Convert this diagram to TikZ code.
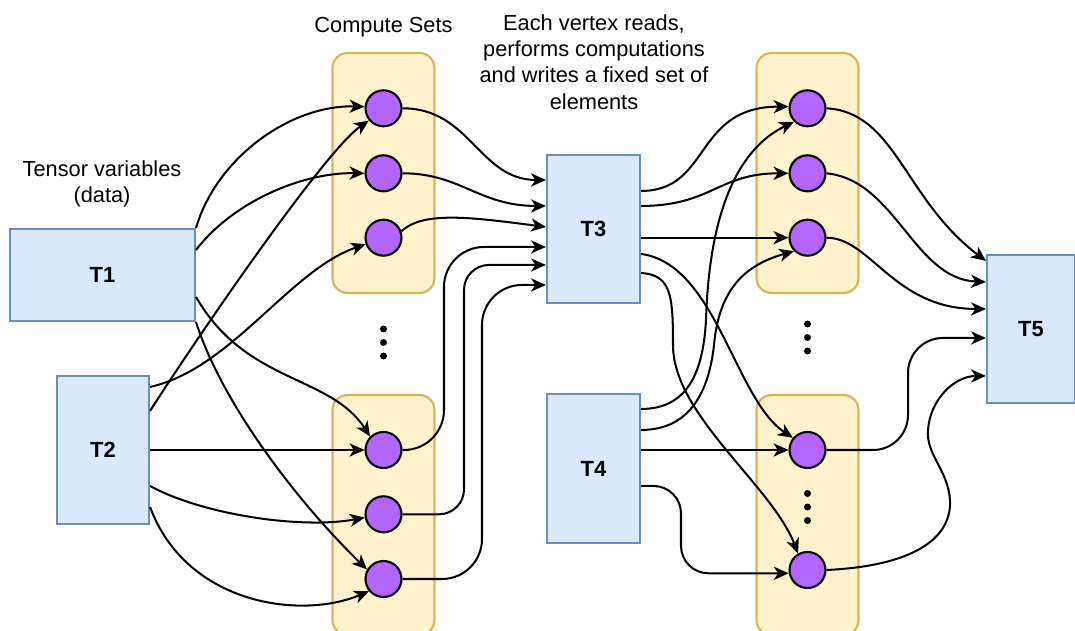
\documentclass[tikz,border=0pt]{standalone}
\usepackage{fontspec}
\setmainfont{Liberation Sans}
\usetikzlibrary{arrows.meta,calc}
\definecolor{tfill}{HTML}{DAE8FC}
\definecolor{tdraw}{HTML}{6C8EBF}
\definecolor{cfill}{HTML}{FFF2CC}
\definecolor{cdraw}{HTML}{D6B656}
\definecolor{vfill}{HTML}{B266FF}
\begin{document}
\begin{tikzpicture}[x=0.02cm,y=-0.02cm,
  tensor/.style={draw=tdraw, fill=tfill, line width=1.2pt, inner sep=0pt, font=\bfseries\fontsize{12.5}{15}\selectfont},
  cset/.style={draw=cdraw, fill=cfill, line width=1.2pt, rounded corners=0.3cm, minimum width=2.04cm, minimum height=4.8cm, inner sep=0pt},
  vert/.style={circle, draw=black, fill=vfill, line width=1.2pt, minimum size=0.72cm, inner sep=0pt},
  arr/.style={-{Stealth[length=8.5pt,width=7.5pt,inset=2.5pt]}, line width=1.15pt},
  lbl/.style={font=\fontsize{12.4}{15}\selectfont, align=center, inner sep=0pt},
  dotn/.style={circle, fill=black, minimum size=0.14cm, inner sep=0pt}
]
\clip (0,0) rectangle (1075,631);

% compute set containers
\node[cset] (S1) at (383.5,173) {};
\node[cset] (S2) at (383.5,515) {};
\node[cset] (S3) at (807.5,173) {};
\node[cset] (S4) at (807.5,515) {};

% tensors
\node[tensor, minimum width=3.7cm, minimum height=1.84cm] (T1) at (102.5,275) {T1};
\node[tensor, minimum width=1.84cm, minimum height=2.96cm] (T2) at (103,450) {T2};
\node[tensor, minimum width=1.86cm, minimum height=2.96cm] (T3) at (593.5,229) {T3};
\node[tensor, minimum width=1.86cm, minimum height=2.98cm] (T4) at (593.5,468.5) {T4};
\node[tensor, minimum width=1.76cm, minimum height=2.96cm] (T5) at (1031,329) {T5};

% vertices
\node[vert] (A1) at (383.5,108.3) {};
\node[vert] (A2) at (383.5,173.3) {};
\node[vert] (A3) at (383.5,237.7) {};
\node[vert] (B1) at (383.5,450) {};
\node[vert] (B2) at (383.5,514.3) {};
\node[vert] (B3) at (383.5,579) {};
\node[vert] (C1) at (807.5,108.3) {};
\node[vert] (C2) at (807.5,173.3) {};
\node[vert] (C3) at (807.5,237.7) {};
\node[vert] (D1) at (807.5,450) {};
\node[vert] (D2) at (807.5,570) {};

% dots
\node[dotn] (l1) at (383.5,329) {};
\node[dotn] (l2) at (383.5,342.5) {};
\node[dotn] (l3) at (383.5,356) {};
\node[dotn] (r1) at (807.5,324) {};
\node[dotn] (r2) at (807.5,337.5) {};
\node[dotn] (r3) at (807.5,351) {};
\node[dotn] (q1) at (807.5,493.5) {};
\node[dotn] (q2) at (807.5,507) {};
\node[dotn] (q3) at (807.5,520.5) {};

% labels
\node[lbl] (lcs) at (383.5,27) {Compute Sets};
\node[lbl] (ltv) at (102,184) {Tensor variables\\(data)};
\node[lbl] (lev) at (594,62) {Each vertex reads,\\performs computations\\and writes a fixed set of\\elements};

% ports
\coordinate (t1b) at ($(T1.north east)+(0,22)$);
\coordinate (t1c) at ($(T1.north east)+(0,69)$);
\coordinate (t2a) at ($(T2.north east)+(0,12)$);
\coordinate (t2b) at ($(T2.north east)+(0,36)$);
\coordinate (t2d) at ($(T2.north east)+(0,111)$);
\coordinate (t2e) at ($(T2.north east)+(0,132)$);
\coordinate (t3i1) at ($(T3.north west)+(0,26)$);
\coordinate (t3i2) at ($(T3.north west)+(0,52)$);
\coordinate (t3i3) at ($(T3.north west)+(0,73)$);
\coordinate (t3i4) at ($(T3.north west)+(0,93)$);
\coordinate (t3i5) at ($(T3.north west)+(0,111)$);
\coordinate (t3i6) at ($(T3.north west)+(0,131)$);
\coordinate (t3o1) at ($(T3.north east)+(0,37)$);
\coordinate (t3o2) at ($(T3.north east)+(0,52)$);
\coordinate (t3o4) at ($(T3.north east)+(0,100)$);
\coordinate (t3o5) at ($(T3.north east)+(0,119)$);
\coordinate (t4o1) at ($(T4.north east)+(0,16)$);
\coordinate (t4o2) at ($(T4.north east)+(0,37)$);
\coordinate (t4o4) at ($(T4.north east)+(0,93)$);
\coordinate (t5i1) at ($(T5.north west)+(0,7)$);
\coordinate (t5i2) at ($(T5.north west)+(0,28)$);
\coordinate (t5i3) at ($(T5.north west)+(0,55)$);
\coordinate (t5i4) at ($(T5.north west)+(0,84)$);
\coordinate (t5i5) at ($(T5.north west)+(0,122)$);
% waypoints (x positions of vertical runs)
\coordinate (v13) at (444,350);
\coordinate (v14) at (464,400);
\coordinate (v15) at (482,430);
\coordinate (v20) at (673,345);
\coordinate (v21) at (706,320);
\coordinate (v22) at (714,345);
\coordinate (v24) at (681,530);
\coordinate (v28) at (908,400);
\coordinate (v29a) at (950,500);
\coordinate (v29b) at (928,430);

% T1 edges
\draw[arr] (T1.north east) .. controls +(20,-69) and +(-75,-2) .. (A1.175);
\draw[arr] (t1b) .. controls +(35,-46) and +(-65,-1) .. (A2.west);
\draw[arr] (t1c) .. controls +(50,87) and +(-40,-62) .. (B1.135);
\draw[arr] (T1.south east) .. controls +(25,79) and +(-72,-70) .. (B3.150);
% T2 edges
\draw[arr] (t2a) .. controls +(81,-18) and +(-76,26) .. (A3.200);
\draw[arr] (t2b) .. controls +(46,-72) and +(-44,30) .. (A1.220);
\draw[arr] (T2.east |- B1.west) -- (B1.west);
\draw[arr] (t2d) .. controls +(51,28) and +(-65,12) .. (B2.190);
\draw[arr] (t2e) .. controls +(36,97) and +(-69,29) .. (B3.220);
% left vertices to T3
\draw[arr] (A1.east) .. controls +(68,0) and +(-67,0) .. (t3i1);
\draw[arr] (A2.east) .. controls +(58,0) and +(-67,0) .. (t3i2);
\draw[arr] (A3.20) .. controls +(22,-20) and +(-77,-10) .. (t3i3);
\draw[arr, rounded corners=0.8cm] (B1.east) -| (v13 |- t3i4) -- (t3i4);
\draw[arr, rounded corners=0.5cm] (B2.east) -| (v14 |- t3i5) -- (t3i5);
\draw[arr, rounded corners=0.8cm] (B3.east) -| (v15 |- t3i6) -- (t3i6);
% T3 to right vertices
\draw[arr] (t3o1) .. controls +(70,0) and +(-95,0) .. (C1.175);
\draw[arr] (t3o2) .. controls +(70,0) and +(-70,0) .. (C2.west);
\draw[arr] (T3.east |- C3.west) -- (C3.west);
\draw[arr] (t3o4) .. controls +(75,10) and +(-58,-38) .. (D1.140);
\draw[arr] (t3o5) .. controls +(30,2) and +(0,-50) .. (v20) .. controls +(0,70) and +(-26,-68) .. (D2.120);
% T4 to right vertices
\draw[arr] (t4o1) .. controls +(45,0) and +(-3,55) .. (v21) .. controls +(3,-100) and +(-60,29) .. (C1.225);
\draw[arr] (t4o2) .. controls +(50,0) and +(-5,45) .. (v22) .. controls +(5,-55) and +(-50,14) .. (C3.225);
\draw[arr] (T4.east |- D1.west) -- (D1.west);
\draw[arr, rounded corners=0.55cm] (t4o4) -| (v24 |- D2.190) -- (D2.190);
% right vertices to T5
\draw[arr] (C1.east) .. controls +(69,4) and +(-82,-62) .. (t5i1);
\draw[arr] (C2.east) .. controls +(69,7) and +(-72,-3) .. (t5i2);
\draw[arr] (C3.east) .. controls +(44,0) and +(-92,0) .. (t5i3);
\draw[arr, rounded corners=0.7cm] (D1.east) -| (v28 |- t5i4) -- (t5i4);
\draw[arr] (D2.east) .. controls +(84,-4) and +(2,40) .. (v29a) .. controls +(-2,-30) and +(-2,25) .. (v29b) .. controls +(2,-30) and +(-32,0) .. (t5i5);
\end{tikzpicture}
\end{document}
